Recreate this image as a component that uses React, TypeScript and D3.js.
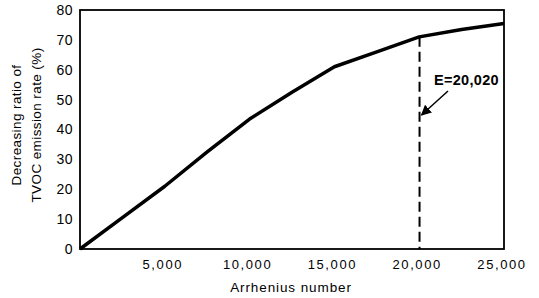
import React from 'react';
import { scaleLinear, line, format } from 'd3';

const arrhenius = [0, 2500, 5000, 7500, 10000, 12500, 15000, 17500, 20000, 22500, 25000];
const ratio = [0, 10.5, 21, 32.5, 43.5, 52.5, 61, 66, 71, 73.5, 75.5];
const yTicks = [0, 10, 20, 30, 40, 50, 60, 70, 80];
const xTicks = [5000, 10000, 15000, 20000, 25000];
const markerE = 20020;
const markerLabel = 'E=20,020';

const W = 539;
const H = 298;
const MARGIN = { TOP: 10, BOTTOM: 49, LEFT: 80, RIGHT: 35 };
const FONT = '"Liberation Sans", Arial, sans-serif';

export default function App(): JSX.Element {
  const xScale = scaleLinear()
    .domain([0, 25000])
    .range([MARGIN.LEFT, W - MARGIN.RIGHT]);
  const yScale = scaleLinear()
    .domain([0, 80])
    .range([H - MARGIN.BOTTOM, MARGIN.TOP]);

  const path = line<number>()
    .x((_, i) => xScale(arrhenius[i]))
    .y((d) => yScale(d))(ratio) as string;

  const fmt = format(',');
  const xE = xScale(markerE);
  // y of curve at E (between 20000 and 22500)
  const yE = yScale(ratio[8] + ((ratio[9] - ratio[8]) * (markerE - 20000)) / 2500);

  return (
    <svg
      width={W}
      height={H}
      style={{ position: 'absolute', left: 0, top: 0, background: '#fff' }}
      fontFamily={FONT}
    >
      <defs>
        <marker
          id="arrow"
          viewBox="0 0 10 10"
          refX="9"
          refY="5"
          markerWidth="7"
          markerHeight="7"
          orient="auto"
        >
          <path d="M0,0 L10,5 L0,10 z" fill="#000" />
        </marker>
      </defs>

      {/* frame */}
      <rect
        x={MARGIN.LEFT}
        y={MARGIN.TOP}
        width={W - MARGIN.LEFT - MARGIN.RIGHT}
        height={H - MARGIN.TOP - MARGIN.BOTTOM}
        fill="none"
        stroke="#000"
        strokeWidth={1.8}
      />

      {/* y axis labels */}
      {yTicks.map((t) => (
        <text
          key={t}
          x={MARGIN.LEFT - 7}
          y={yScale(t)}
          dy="0.35em"
          textAnchor="end"
          fontSize={14}
          letterSpacing={0.5}
        >
          {t}
        </text>
      ))}

      {/* x axis labels */}
      {xTicks.map((t) => (
        <text
          key={t}
          x={xScale(t) - 2}
          y={269}
          textAnchor="middle"
          fontSize={13}
          letterSpacing={1.6}
        >
          {fmt(t)}
        </text>
      ))}

      <text x={291} y={292} textAnchor="middle" fontSize={13.5} letterSpacing={0.9}>
        Arrhenius number
      </text>

      <g transform={`translate(27, 125) rotate(-90)`}>
        <text x={0} y={-6} textAnchor="middle" fontSize={13.5} letterSpacing={0.4}>
          Decreasing ratio of
        </text>
        <text x={0} y={14} textAnchor="middle" fontSize={13.5} letterSpacing={0.4}>
          TVOC emission rate (%)
        </text>
      </g>

      {/* dashed marker */}
      <line
        x1={xE}
        x2={xE}
        y1={yE}
        y2={yScale(0)}
        stroke="#000"
        strokeWidth={2}
        strokeDasharray="10,5"
      />

      <path d={path} fill="none" stroke="#000" strokeWidth={3.5} strokeLinejoin="round" />

      <text x={434} y={85} fontSize={14.5} fontWeight="bold" letterSpacing={0.3}>
        {markerLabel}
      </text>
      <line
        x1={448}
        y1={91}
        x2={xE + 2}
        y2={115}
        stroke="#000"
        strokeWidth={1.5}
        markerEnd="url(#arrow)"
      />
    </svg>
  );
}
